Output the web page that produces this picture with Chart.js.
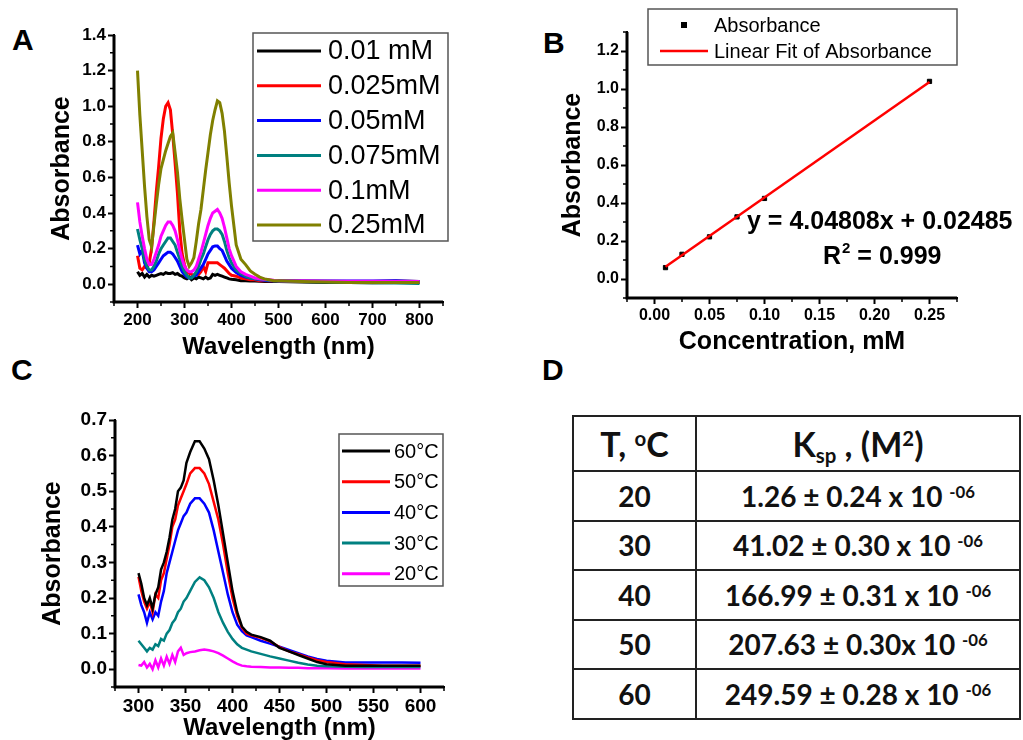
<!DOCTYPE html>
<html>
<head>
<meta charset="utf-8">
<script src="https://cdn.jsdelivr.net/npm/chart.js@4.4.0/dist/chart.umd.min.js"></script>
<style>
  body { margin: 0; background: #fff; width: 1023px; height: 740px; position: relative; overflow: hidden; font-family: 'Liberation Sans', Arial, sans-serif; }
  canvas { position: absolute; }
  .tag { position: absolute; font-weight: bold; font-size: 30px; line-height: 1; }
  #ksp { position: absolute; left: 572px; top: 415px; width: 449px; border-collapse: collapse; font-family: Lato, 'Open Sans', sans-serif; font-weight: bold; color: #111; }
  #ksp th, #ksp td { border: 2px solid #222; text-align: center; padding: 0; }
  #ksp th { height: 53px; font-size: 34px; }
  #ksp td { height: 47.5px; font-size: 28px; }
  #ksp td:first-child, #ksp th:first-child { width: 121px; }
  #ksp sup { font-size: 60%; vertical-align: 0.55em; line-height: 0; }
  #ksp sub { font-size: 60%; vertical-align: -0.3em; line-height: 0; }
</style>
</head>
<body>
<div class="tag" style="left:12px;top:25px">A</div>
<div class="tag" style="left:543px;top:28px">B</div>
<div class="tag" style="left:11px;top:355px">C</div>
<div class="tag" style="left:542px;top:355px">D</div>

<canvas id="chartA" width="460" height="370" style="left:0;top:0;width:460px;height:370px"></canvas>
<canvas id="chartB" width="503" height="370" style="left:520px;top:0;width:503px;height:370px"></canvas>
<canvas id="chartC" width="520" height="370" style="left:0;top:370px;width:520px;height:370px"></canvas>
<table id="ksp"></table>

<script>
// ---- panel A: spectra at different concentrations ----
const waveA = [200,205,210,215,220,225,230,235,240,245,250,255,260,265,270,275,280,285,290,295,
  300,305,310,315,320,325,330,335,340,345,350,355,360,365,370,375,380,385,390,395,400,
  410,420,430,440,450,460,470,480,490,500,550,600,650,700,750,800];
const labelsA = ['0.01 mM', '0.025mM', '0.05mM', '0.075mM', '0.1mM', '0.25mM'];
const abs001 = [0.07,0.05,0.06,0.04,0.055,0.04,0.05,0.045,0.05,0.055,
  0.06,0.055,0.065,0.06,0.06,0.065,0.055,0.06,0.05,0.045,
  0.035,0.03,0.04,0.025,0.035,0.03,0.04,0.035,0.03,0.04,
  0.03,0.035,0.055,0.05,0.055,0.05,0.045,0.04,0.035,0.03,0.028,
  0.025,0.02,0.02,0.018,0.018,0.016,0.015,0.015,0.015,0.015,
  0.012,0.01,0.01,0.008,0.01,0.01];
const abs0025 = [0.16,0.09,0.08,0.10,0.09,0.12,0.20,0.35,0.52,0.66,
  0.82,0.93,1.00,1.02,0.98,0.84,0.68,0.51,0.30,0.17,
  0.11,0.07,0.06,0.055,0.05,0.06,0.055,0.07,0.10,0.07,
  0.12,0.12,0.12,0.12,0.12,0.11,0.10,0.09,0.075,0.06,0.05,
  0.045,0.035,0.03,0.025,0.025,0.02,0.02,0.02,0.02,0.02,
  0.018,0.016,0.015,0.015,0.018,0.015];
const abs005 = [0.22,0.17,0.19,0.12,0.09,0.07,0.07,0.08,0.10,0.12,
  0.14,0.16,0.17,0.18,0.18,0.17,0.15,0.13,0.10,0.07,
  0.055,0.04,0.035,0.04,0.045,0.05,0.07,0.09,0.11,0.14,
  0.17,0.19,0.21,0.215,0.215,0.20,0.19,0.16,0.13,0.11,0.09,
  0.065,0.05,0.04,0.035,0.03,0.025,0.022,0.02,0.02,0.02,
  0.018,0.018,0.018,0.018,0.02,0.015];
const abs0075 = [0.31,0.25,0.20,0.14,0.10,0.08,0.08,0.10,0.13,0.17,
  0.20,0.22,0.24,0.26,0.26,0.24,0.22,0.18,0.14,0.10,
  0.07,0.05,0.035,0.035,0.05,0.07,0.10,0.14,0.17,0.21,
  0.25,0.28,0.30,0.31,0.31,0.30,0.28,0.24,0.19,0.15,0.12,
  0.08,0.06,0.045,0.035,0.03,0.028,0.025,0.022,0.02,0.018,
  0.015,0.012,0.01,0.008,0.007,0.004];
const abs01 = [0.46,0.35,0.27,0.20,0.14,0.11,0.11,0.14,0.18,0.22,
  0.27,0.30,0.33,0.35,0.35,0.33,0.30,0.25,0.19,0.14,
  0.10,0.08,0.07,0.07,0.08,0.10,0.14,0.18,0.23,0.28,
  0.33,0.37,0.40,0.41,0.42,0.40,0.37,0.32,0.26,0.20,0.16,
  0.10,0.07,0.055,0.045,0.035,0.03,0.028,0.025,0.022,0.02,
  0.018,0.017,0.016,0.016,0.015,0.015];
const abs025 = [1.20,0.95,0.75,0.55,0.38,0.25,0.21,0.33,0.45,0.56,
  0.65,0.70,0.75,0.79,0.83,0.85,0.74,0.63,0.48,0.36,
  0.25,0.14,0.10,0.12,0.15,0.24,0.34,0.42,0.53,0.64,
  0.74,0.84,0.92,0.98,1.03,1.02,0.96,0.86,0.72,0.57,0.44,
  0.22,0.14,0.11,0.075,0.056,0.04,0.03,0.025,0.02,0.02,
  0.015,0.012,0.01,0.01,0.01,0.01];
const xTicksA = [200, 300, 400, 500, 600, 700, 800];
const yTicksA = [0, 0.2, 0.4, 0.6, 0.8, 1.0, 1.2, 1.4];

// ---- panel B: calibration ----
const concB = [0.01, 0.025, 0.05, 0.075, 0.1, 0.25];
const absB = [0.06, 0.13, 0.222, 0.327, 0.424, 1.04];
const fitX = [0.01, 0.25];
const fitY = [0.065, 1.037];
const xTicksB = [0, 0.05, 0.10, 0.15, 0.20, 0.25];
const yTicksB = [0, 0.2, 0.4, 0.6, 0.8, 1.0, 1.2];
const fitEquation = 'y = 4.04808x + 0.02485';
const fitR2 = '0.999';

// ---- panel C: spectra at different temperatures ----
const waveC = [300,303,306,309,312,315,318,321,324,327,330,333,336,339,342,345,348,351,
  355,360,365,370,375,380,385,390,395,400,405,410,415,420,
  430,440,450,460,470,480,490,500,520,540,560,580,600];
const labelsC = ['60°C', '50°C', '40°C', '30°C', '20°C'];
const t60 = [0.27,0.24,0.20,0.18,0.20,0.17,0.21,0.23,0.28,0.30,0.33,0.37,0.42,0.45,0.50,0.51,0.53,0.58,
  0.61,0.64,0.64,0.62,0.59,0.53,0.46,0.38,0.30,0.22,0.16,0.12,0.105,0.097,
  0.09,0.08,0.06,0.05,0.04,0.03,0.02,0.014,0.01,0.01,0.01,0.01,0.01];
const t50 = [0.26,0.22,0.19,0.17,0.19,0.16,0.21,0.20,0.25,0.27,0.31,0.35,0.40,0.42,0.46,0.48,0.50,0.52,
  0.55,0.565,0.565,0.55,0.52,0.47,0.42,0.35,0.27,0.20,0.15,0.117,0.10,0.095,
  0.088,0.078,0.062,0.05,0.042,0.033,0.025,0.02,0.014,0.012,0.01,0.01,0.01];
const t40 = [0.21,0.18,0.16,0.13,0.16,0.14,0.16,0.15,0.19,0.22,0.27,0.30,0.33,0.36,0.39,0.41,0.43,0.44,
  0.465,0.48,0.48,0.465,0.44,0.39,0.33,0.27,0.21,0.16,0.125,0.107,0.095,0.09,
  0.08,0.072,0.063,0.054,0.045,0.036,0.029,0.024,0.019,0.019,0.019,0.019,0.018];
const t30 = [0.08,0.07,0.06,0.05,0.06,0.055,0.07,0.065,0.085,0.08,0.10,0.11,0.13,0.14,0.16,0.17,0.19,0.20,
  0.22,0.245,0.258,0.25,0.23,0.20,0.16,0.13,0.105,0.085,0.07,0.06,0.055,0.05,
  0.043,0.036,0.03,0.024,0.018,0.013,0.01,0.008,0.007,0.006,0.006,0.006,0.006];
const t20 = [0.012,0.01,0.02,0.005,0.015,0.0,0.025,0.005,0.03,0.01,0.035,0.015,0.04,0.02,0.05,0.06,0.04,0.045,
  0.048,0.05,0.053,0.055,0.053,0.05,0.045,0.038,0.03,0.022,0.015,0.01,0.008,0.007,
  0.006,0.005,0.005,0.004,0.004,0.003,0.003,0.003,0.002,0.002,0.002,0.002,0.002];
const xTicksC = [300, 350, 400, 450, 500, 550, 600];
const yTicksC = [0, 0.1, 0.2, 0.3, 0.4, 0.5, 0.6, 0.7];

// ---- panel D: table ----
const tempsD = ['20', '30', '40', '50', '60'];
const kspD = ['1.26 ± 0.24 x 10', '41.02 ± 0.30 x 10', '166.99 ± 0.31 x 10', '207.63 ± 0.30x 10', '249.59 ± 0.28 x 10'];
const kspExp = '-06';

Chart.defaults.font.family = "'Liberation Sans', Arial, sans-serif";
Chart.defaults.color = '#000';

// minor ticks halfway between the major ones, plus one beyond each end
const halfSteps = (majors) => {
  const step = majors[1] - majors[0];
  return majors.map(v => v - step / 2).concat([majors[majors.length - 1] + step / 2]);
};

// left/bottom axis lines + minor ticks (Origin style)
const axisLines = (xm, ym) => ({
  id: 'axisLines',
  afterDraw(chart) {
    const { ctx, chartArea: ca } = chart;
    const xs = chart.scales.x, ys = chart.scales.y;
    ctx.save();
    ctx.strokeStyle = '#000';
    ctx.lineWidth = 3;
    ctx.beginPath();
    ctx.moveTo(ca.left, ca.top);
    ctx.lineTo(ca.left, ca.bottom);
    ctx.lineTo(ca.right, ca.bottom);
    ctx.stroke();
    ctx.lineWidth = 1.5;
    ctx.beginPath();
    xm.filter(v => v >= xs.min && v <= xs.max).forEach(v => {
      const p = xs.getPixelForValue(v); ctx.moveTo(p, ca.bottom); ctx.lineTo(p, ca.bottom + 4);
    });
    ym.filter(v => v >= ys.min && v <= ys.max).forEach(v => {
      const p = ys.getPixelForValue(v); ctx.moveTo(ca.left, p); ctx.lineTo(ca.left - 4, p);
    });
    ctx.stroke();
    ctx.restore();
  }
});

// framed legend drawn inside the plot, like the Origin one
const boxLegend = (b) => ({
  id: 'boxLegend',
  afterDraw(chart) {
    const { ctx } = chart;
    ctx.save();
    ctx.fillStyle = '#fff';
    ctx.fillRect(b.x, b.y, b.w, b.h);
    ctx.strokeStyle = '#555';
    ctx.lineWidth = 1.5;
    ctx.strokeRect(b.x, b.y, b.w, b.h);
    ctx.font = b.font;
    ctx.textBaseline = 'middle';
    chart.data.datasets.forEach((ds, i) => {
      const cy = b.y + b.first + i * b.rowH;
      if (ds.showLine) {
        ctx.strokeStyle = ds.borderColor;
        ctx.lineWidth = b.lw;
        ctx.beginPath();
        ctx.moveTo(b.lx0, cy);
        ctx.lineTo(b.lx1, cy);
        ctx.stroke();
      } else {
        ctx.fillStyle = ds.backgroundColor;
        const mx = (b.lx0 + b.lx1) / 2;
        ctx.fillRect(mx - 3, cy - 3, 6, 6);
      }
      ctx.fillStyle = '#000';
      ctx.fillText(ds.label, b.tx, cy + 1);
    });
    ctx.restore();
  }
});

function axis(o) {
  return {
    type: 'linear', min: o.min, max: o.max,
    afterBuildTicks: s => { s.ticks = o.ticks.map(v => ({ value: v })); },
    afterFit: s => { if (o.width) s.width = o.width; if (o.height) s.height = o.height; },
    grid: { drawOnChartArea: false, tickLength: 6, tickWidth: 2, tickColor: '#000' },
    border: { color: '#000', width: 2 },
    ticks: { font: { size: o.tickSize, weight: 'bold' }, color: '#000', padding: 2, maxRotation: 0, autoSkip: false, callback: o.fmt },
    title: { display: true, text: o.title, color: '#000', font: { size: o.titleSize, weight: 'bold', lineHeight: 1 }, padding: o.titlePad }
  };
}

function spectrum(label, xs, ys, color, order, width) {
  return {
    label: label,
    data: xs.map((x, i) => ({ x: x, y: ys[i] })),
    borderColor: color, backgroundColor: color,
    borderWidth: width, pointRadius: 0, showLine: true, order: order
  };
}

const baseOpts = (pad) => ({
  responsive: false, animation: false, devicePixelRatio: 1,
  layout: { padding: pad },
  plugins: { legend: { display: false }, tooltip: { enabled: false } }
});

// ---- A ----
const colorsA = ['#000000', '#ff0000', '#0000ff', '#008080', '#ff00ff', '#808000'];
const seriesA = [abs001, abs0025, abs005, abs0075, abs01, abs025];
new Chart(document.getElementById('chartA'), {
  type: 'scatter',
  data: { datasets: seriesA.map((s, i) => spectrum(labelsA[i], waveA, s, colorsA[i], 5 - i, 3)) },
  options: Object.assign(baseOpts({ left: 0, top: 35, right: 17, bottom: 0 }), {
    scales: {
      x: axis({ min: 150, max: 850, ticks: xTicksA, height: 68, tickSize: 17, fmt: v => v.toFixed(0),
        title: 'Wavelength (nm)', titleSize: 24, titlePad: { top: 0, bottom: 11 } }),
      y: axis({ min: -0.1, max: 1.4, ticks: yTicksA, width: 114, tickSize: 17, fmt: v => v.toFixed(1),
        title: 'Absorbance', titleSize: 25, titlePad: { top: 49.5, bottom: 0 } })
    }
  }),
  plugins: [
    boxLegend({ x: 253, y: 33, w: 195, h: 208, first: 18, rowH: 34.8, lx0: 257, lx1: 321, tx: 328, lw: 3, font: '27px "Liberation Sans", Arial' }),
    axisLines(halfSteps(xTicksA), halfSteps(yTicksA))
  ]
});

// ---- B ----
new Chart(document.getElementById('chartB'), {
  type: 'scatter',
  data: {
    datasets: [
      { label: 'Absorbance', data: concB.map((x, i) => ({ x: x, y: absB[i] })), backgroundColor: '#000', borderColor: '#000',
        pointStyle: 'rect', pointRadius: 3, showLine: false, order: 1 },
      { label: 'Linear Fit of Absorbance', data: fitX.map((x, i) => ({ x: x, y: fitY[i] })), borderColor: '#ff0000', backgroundColor: '#ff0000',
        borderWidth: 2.5, pointRadius: 0, showLine: true, order: 0 }
    ]
  },
  options: Object.assign(baseOpts({ left: 0, top: 32, right: 66, bottom: 0 }), {
    scales: {
      x: axis({ min: -0.025, max: 0.275, ticks: xTicksB, height: 72, tickSize: 16, fmt: v => v.toFixed(2),
        title: 'Concentration, mM', titleSize: 25, titlePad: { top: 0, bottom: 15.5 } }),
      y: axis({ min: -0.1, max: 1.3, ticks: yTicksB, width: 107, tickSize: 16, fmt: v => v.toFixed(1),
        title: 'Absorbance', titleSize: 25, titlePad: { top: 40.5, bottom: 0 } })
    }
  }),
  plugins: [
    boxLegend({ x: 128, y: 9, w: 309, h: 56, first: 16, rowH: 26, lx0: 140, lx1: 188, tx: 194, lw: 2.5, font: '20px "Liberation Sans", Arial' }),
    {
      id: 'fitNote',
      afterDraw(chart) {
        const { ctx } = chart;
        ctx.save();
        ctx.fillStyle = '#000';
        ctx.textBaseline = 'middle';
        ctx.font = 'bold 25px "Liberation Sans", Arial';
        ctx.fillText(fitEquation, 227, 222);
        let x = 303;
        ctx.fillText('R', x, 257);
        x += ctx.measureText('R').width;
        ctx.font = 'bold 15px "Liberation Sans", Arial';
        ctx.fillText('2', x + 1, 249);
        x += ctx.measureText('2').width + 1;
        ctx.font = 'bold 25px "Liberation Sans", Arial';
        ctx.fillText(' = ' + fitR2, x, 257);
        ctx.restore();
      }
    },
    axisLines(halfSteps(xTicksB), halfSteps(yTicksB))
  ]
});

// ---- C ----
const colorsC = ['#000000', '#ff0000', '#0000ff', '#008080', '#ff00ff'];
const seriesC = [t60, t50, t40, t30, t20];
new Chart(document.getElementById('chartC'), {
  type: 'scatter',
  data: { datasets: seriesC.map((s, i) => spectrum(labelsC[i], waveC, s, colorsC[i], i, 2.5)) },
  options: Object.assign(baseOpts({ left: 0, top: 50, right: 76, bottom: 0 }), {
    scales: {
      x: axis({ min: 275, max: 625, ticks: xTicksC, height: 53, tickSize: 19, fmt: v => v.toFixed(0),
        title: 'Wavelength (nm)', titleSize: 24, titlePad: { top: 0, bottom: 0 } }),
      y: axis({ min: -0.05, max: 0.7, ticks: yTicksC, width: 115, tickSize: 19, fmt: v => v.toFixed(1),
        title: 'Absorbance', titleSize: 25, titlePad: { top: 40.5, bottom: 0 } })
    }
  }),
  plugins: [
    boxLegend({ x: 339, y: 64, w: 104, h: 152, first: 17, rowH: 30.7, lx0: 342, lx1: 390, tx: 394, lw: 3, font: '20px "Liberation Sans", Arial' }),
    axisLines(halfSteps(xTicksC), halfSteps(yTicksC))
  ]
});

// ---- D ----
const table = document.getElementById('ksp');
let rows = '<tr><th>T, <sup>o</sup>C</th><th>K<sub>sp</sub> , (M<sup>2</sup>)</th></tr>';
tempsD.forEach((t, i) => {
  rows += '<tr><td>' + t + '</td><td>' + kspD[i] + ' <sup>' + kspExp + '</sup></td></tr>';
});
table.innerHTML = rows;
</script>
</body>
</html>
